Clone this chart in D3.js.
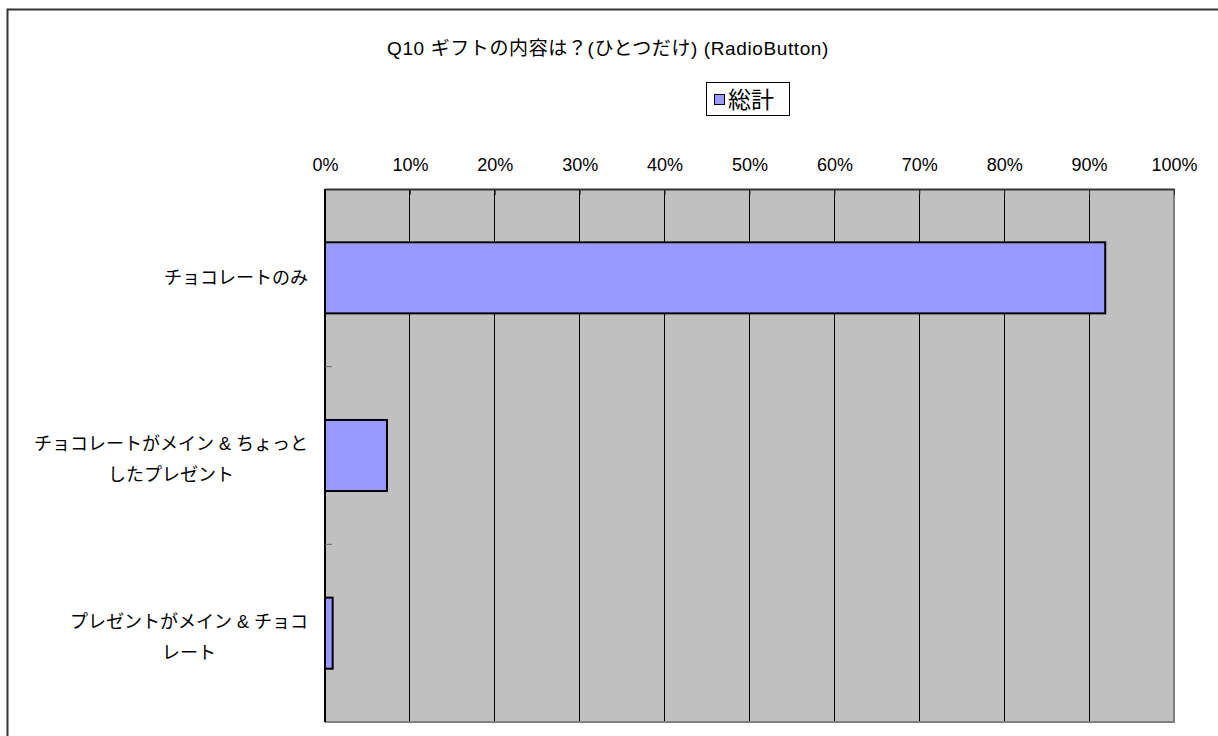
<!DOCTYPE html>
<html><head><meta charset="utf-8">
<script src="https://cdn.jsdelivr.net/npm/d3@7"></script>
<style>
body{margin:0;background:#fff;}
text{font-family:"Liberation Sans","Noto Sans CJK JP",sans-serif;fill:#000;}
</style></head>
<body><svg id="c" width="1218" height="736"></svg>
<script>
const title = "Q10 ギフトの内容は？(ひとつだけ) (RadioButton)";
const seriesName = "総計";
const categories = ["チョコレートのみ", "チョコレートがメイン & ちょっとしたプレゼント", "プレゼントがメイン & チョコレート"];
const categoryLines = [["チョコレートのみ"], ["チョコレートがメイン & ちょっと", "したプレゼント"], ["プレゼントがメイン & チョコ", "レート"]];
const values = [91.9, 7.3, 0.9];
const tickValues = [0,10,20,30,40,50,60,70,80,90,100];

const svg = d3.select("#c");
const W = 1218, H = 736;
const m = {left:325, right:1174, top:189, bottom:722};

// outer frame
svg.append("rect").attr("x",7.5).attr("y",9.5).attr("width",W+20).attr("height",H+20)
  .attr("fill","#fff").attr("stroke","#333").attr("stroke-width",2);

const x = d3.scaleLinear().domain([0,100]).range([m.left, m.right]);
const y = d3.scaleBand().domain(categories).range([m.top, m.bottom]).paddingInner(0.6).paddingOuter(0.3);
const yb = d3.scaleBand().domain(categories).range([m.top, m.bottom]);

// plot area
svg.append("rect").attr("x",m.left).attr("y",m.top).attr("width",m.right-m.left).attr("height",m.bottom-m.top)
  .attr("fill","#c0c0c0");

// gridlines
svg.append("g").selectAll("line").data(tickValues.slice(1,-1)).join("line")
  .attr("x1",d=>x(d)).attr("x2",d=>x(d)).attr("y1",m.top).attr("y2",m.bottom)
  .attr("stroke","#000").attr("stroke-width",1).attr("shape-rendering","crispEdges");

// plot border right/bottom
svg.append("path").attr("d",`M${m.left},${m.bottom}H${m.right}V${m.top}`)
  .attr("fill","none").attr("stroke","#808080").attr("stroke-width",2);

// bars
svg.append("g").selectAll("rect").data(values).join("rect")
  .attr("x",x(0)).attr("y",(d,i)=>y(categories[i]))
  .attr("width",d=>x(d)-x(0)).attr("height",y.bandwidth())
  .attr("fill","#9999ff").attr("stroke","#000").attr("stroke-width",2);

// top axis
const xAxis = d3.axisTop(x).tickValues(tickValues).tickFormat(d=>d+"%").tickSizeInner(-6).tickSizeOuter(0).tickPadding(18);
const gx = svg.append("g").attr("transform",`translate(0,${m.top})`).call(xAxis);
gx.select(".domain").attr("stroke","#333").attr("stroke-width",2);
gx.selectAll(".tick line").attr("stroke","#333");
gx.selectAll(".tick text").attr("font-size",18).attr("fill","#000");

// left axis
svg.append("line").attr("x1",m.left).attr("x2",m.left).attr("y1",m.top).attr("y2",m.bottom)
  .attr("stroke","#000").attr("stroke-width",2);
svg.append("g").selectAll("line").data(categories.slice(1)).join("line")
  .attr("x1",m.left).attr("x2",m.left+7).attr("y1",d=>yb(d)).attr("y2",d=>yb(d))
  .attr("stroke","#666").attr("stroke-width",1);

// category labels
const lh = 31;
categoryLines.forEach((lines,i)=>{
  const cy = yb(categories[i]) + yb.bandwidth()/2 + (lines.length>1?4:0);
  const g = svg.append("g");
  const ts = lines.map((l,j)=>g.append("text").attr("font-size",18).attr("text-anchor","middle")
     .attr("dominant-baseline","central")
     .attr("y", cy + (j-(lines.length-1)/2)*lh).text(l));
  const maxW = d3.max(ts, t=>t.node().getComputedTextLength());
  ts.forEach(t=>t.attr("x", 308 - maxW/2));
});

// title
svg.append("text").attr("x",608).attr("y",48).attr("text-anchor","middle").attr("dominant-baseline","central")
  .attr("font-size",19).attr("letter-spacing",0.6).text(title);

// legend
const lg = svg.append("g");
lg.append("rect").attr("x",706.5).attr("y",82.5).attr("width",83).attr("height",33)
  .attr("fill","#fff").attr("stroke","#000").attr("stroke-width",1);
lg.append("rect").attr("x",714.5).attr("y",94.5).attr("width",10).attr("height",10)
  .attr("fill","#9999ff").attr("stroke","#000").attr("stroke-width",1);
lg.append("text").attr("x",728).attr("y",100).attr("dominant-baseline","central")
  .attr("font-size",23).text(seriesName);
</script></body></html>
